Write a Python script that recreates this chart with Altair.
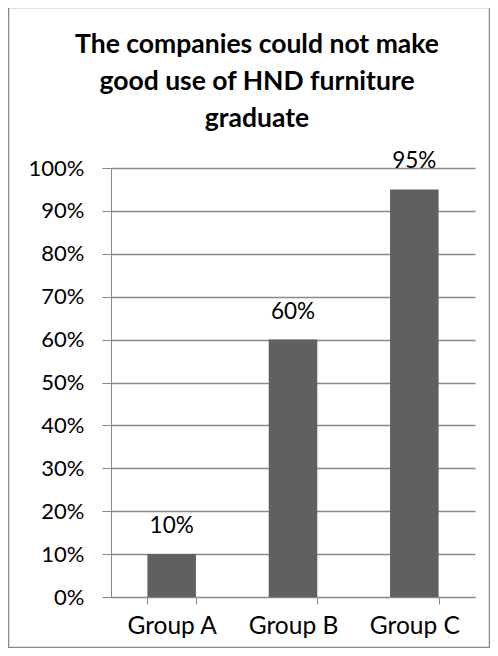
import altair as alt
import pandas as pd

groups = ["Group A", "Group B", "Group C"]
values = [0.10, 0.60, 0.95]
title_lines = ["The companies could not make", "good use of HND furniture", "graduate"]

df = pd.DataFrame({"group": groups, "value": values})
frame_df = pd.DataFrame({"k": [0]})

W, H = 364, 429
FONT = "Lato"

base = alt.Chart(df)

bars = base.mark_bar(color="#606060").encode(
    x=alt.X("group:N", sort=groups,
            scale=alt.Scale(paddingInner=0.6, paddingOuter=0.3),
            axis=alt.Axis(title=None, labelAngle=0, labelFontSize=24.5, labelFont=FONT,
                          labelColor="#000000", labelPadding=10, tickBand="extent",
                          tickSize=7, tickColor="#888888", domainColor="#888888",
                          grid=False)),
    y=alt.Y("value:Q", scale=alt.Scale(domain=[0, 1]),
            axis=alt.Axis(title=None, format=".0%", values=[i / 10 for i in range(11)],
                          labelFontSize=22, labelFont=FONT, labelColor="#000000",
                          labelPadding=18, tickSize=9, tickColor="#888888",
                          domainColor="#888888", gridColor="#888888", gridWidth=1.5)),
)

labels = base.mark_text(font=FONT, fontSize=22.5, color="#000000", baseline="alphabetic", dy=-21).encode(
    x=alt.X("group:N", sort=groups),
    y=alt.Y("value:Q"),
    text=alt.Text("value:Q", format=".0%"),
)

frame = alt.Chart(frame_df).mark_rect(fill=None, stroke="#888888", strokeWidth=1.5).encode(
    x=alt.value(-102.5), x2=alt.value(W + 14.5),
    y=alt.value(-160.5), y2=alt.value(H + 50.5),
)

chart = alt.layer(frame, bars, labels).properties(
    width=W, height=H,
    autosize=alt.AutoSizeParams(type="none"),
    padding={"left": 103, "top": 160, "right": 15, "bottom": 51},
    title=alt.TitleParams(title_lines, font=FONT, fontSize=26.5, fontWeight="bold",
                          color="#000000", lineHeight=37, anchor="middle",
                          frame="group", dx=-36, offset=-126),
).configure_view(stroke=None)

chart.save("out.html", embed_options={"renderer": "svg", "actions": False})
